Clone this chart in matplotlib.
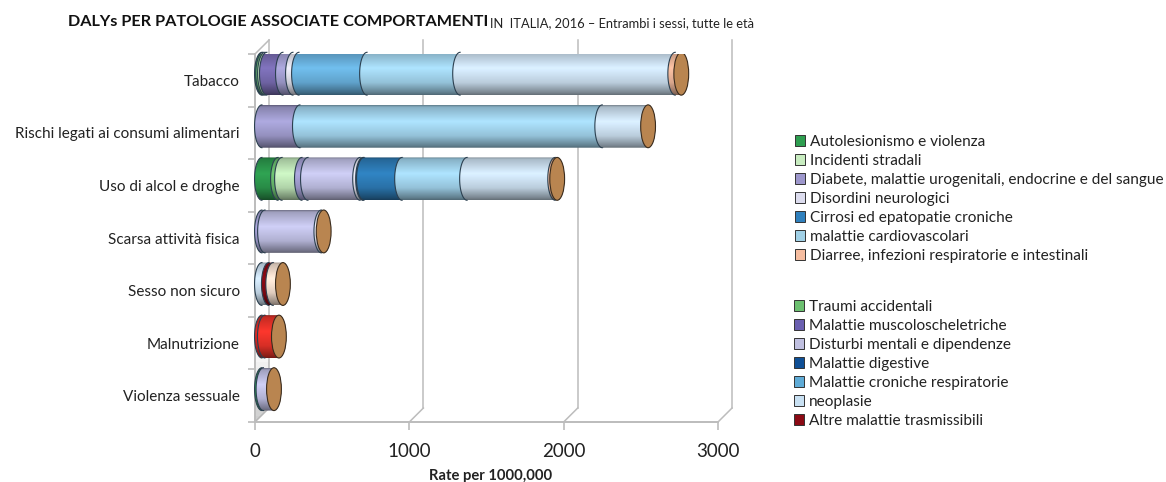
import numpy as np
import matplotlib
matplotlib.use("Agg")
import matplotlib.pyplot as plt
from matplotlib.patches import Ellipse, Patch, PathPatch, Polygon
from matplotlib.path import Path
from matplotlib.colors import to_rgb

plt.rcParams['font.family'] = ['Lato', 'DejaVu Sans']

# Categorie
categorie = ["Tabacco", "Rischi legati ai consumi alimentari", "Uso di alcol e droghe",
             "Scarsa attività fisica", "Sesso non sicuro", "Malnutrizione", "Violenza sessuale"]

# Valori (stesso ordine delle categorie)
autolesionismo = [8, 0, 104, 0, 0, 0, 10]
traumi = [12, 0, 26, 0, 0, 0, 0]
incidenti = [12, 0, 129, 0, 0, 0, 0]
muscolo = [104, 0, 0, 0, 0, 0, 0]
diabete = [65, 246, 39, 20, 0, 0, 0]
disturbi = [0, 0, 338, 365, 0, 0, 68]
disordini = [39, 0, 19, 15, 0, 0, 0]
digestive = [0, 0, 6, 0, 0, 0, 0]
cirrosi = [0, 0, 247, 0, 0, 0, 0]
respiratorie = [441, 0, 0, 0, 0, 0, 0]
cardio = [603, 1959, 421, 0, 0, 0, 0]
neoplasie = [1394, 297, 571, 0, 45, 0, 0]
altre = [0, 0, 0, 0, 28, 0, 0]
hiv = [0, 0, 0, 0, 63, 0, 0]
diarree = [39, 0, 13, 0, 0, 0, 0]
nutrizione_a = [0, 0, 0, 0, 0, 19, 0]
nutrizione_b = [0, 0, 0, 0, 0, 91, 0]

# Serie nell'ordine di impilamento: valori e colore
serie = [
    (autolesionismo, "#2e9e50"), (traumi, "#6cc070"), (incidenti, "#c8f0c0"),
    (muscolo, "#7d70b8"), (diabete, "#a8a4d8"), (disturbi, "#c8c8ee"),
    (disordini, "#e8e8f4"), (digestive, "#0f4f95"), (cirrosi, "#2f80bd"),
    (respiratorie, "#6db8e6"), (cardio, "#a8dcf6"), (neoplasie, "#d4e9fa"),
    (altre, "#8b0a14"), (hiv, "#fee8d8"), (diarree, "#f6bda0"),
    (nutrizione_a, "#dc2a24"), (nutrizione_b, "#f4352b"),
]

legenda_1 = [("Autolesionismo e violenza", "#2e9e50"), ("Incidenti stradali", "#c8ecc0"),
             ("Diabete, malattie urogenitali, endocrine e del sangue", "#9d97cc"),
             ("Disordini neurologici", "#dcdcee"), ("Cirrosi ed epatopatie croniche", "#2f80bd"),
             ("malattie cardiovascolari", "#a0d0e6"), ("Diarree, infezioni respiratorie e intestinali", "#f6bda0")]
legenda_2 = [("Traumi accidentali", "#6cc070"), ("Malattie muscoloscheletriche", "#6a5fb0"),
             ("Disturbi mentali e dipendenze", "#c0c0e0"), ("Malattie digestive", "#0f4f95"),
             ("Malattie croniche respiratorie", "#5fabd6"), ("neoplasie", "#c8e0f2"),
             ("Altre malattie trasmissibili", "#8b0a14")]

W, H = 1166, 482
fig = plt.figure(figsize=(W / 100, H / 100), dpi=100)
ax = fig.add_axes([255 / W, 1 - 422 / H, 463 / W, 368 / H])
ax.set_facecolor("none")

GRIGIO = "#bcbcbc"
PROF_X = 91      # profondita' 3D in unita' dati
PROF_Y = 0.266
SEMI_X = 48      # semiasse ellisse
ALTEZZA = 0.815
SPOST_Y = -0.125
OFFS_X = 45

# Ombreggiatura verticale del cilindro
pos = [0, 0.04, 0.38, 0.72, 0.95, 1]
lum = [0.58, 0.8, 1.04, 0.88, 0.58, 0.48]
prof = np.interp(np.linspace(0, 1, 64), pos, lum)


def forma(x0, x1, yc):
    # lato sinistro e destro del segmento, fatti di semiellissi
    h = ALTEZZA / 2
    t = np.linspace(np.pi / 2, 3 * np.pi / 2, 30)
    sx = np.column_stack([x0 + SEMI_X * np.cos(t), yc - h * np.sin(t)])
    dx = np.column_stack([x1 - SEMI_X * np.cos(t), yc + h * np.sin(t)])
    return np.vstack([sx, dx, sx[:1]]), sx


def segmento(x0, x1, yc, colore, z):
    vertici, bordo = forma(x0, x1, yc)
    rgb = np.array(to_rgb(colore))
    img = np.clip(rgb[None, None, :] * prof[:, None, None], 0, 1)
    h = ALTEZZA / 2
    im = ax.imshow(img, extent=[x0 - SEMI_X, x1 + SEMI_X, yc + h, yc - h], aspect="auto",
                   interpolation="bilinear", zorder=z)
    patch = PathPatch(Path(vertici), fc="none", ec="none", zorder=z)
    ax.add_patch(patch)
    im.set_clip_path(patch)
    ax.plot(bordo[:, 0], bordo[:, 1], color="#2c4050", lw=0.8, zorder=z + 0.1, clip_on=False)


# Pareti e griglia sul fondo
y_basso, y_alto = 6.5, -0.5
fondo_basso, fondo_alto = y_basso - PROF_Y, y_alto - PROF_Y
for v in [0, 1000, 2000, 3000]:
    ax.plot([v + PROF_X] * 2, [fondo_basso, fondo_alto], color=GRIGIO, lw=1.1, zorder=1, clip_on=False)
    ax.plot([v, v + PROF_X], [y_basso, fondo_basso], color=GRIGIO, lw=1.1, zorder=1, clip_on=False)
ax.plot([0, PROF_X], [y_alto, fondo_alto], color=GRIGIO, lw=1.1, zorder=1, clip_on=False)

# Parete sinistra che sfuma verso il basso
sfumatura = np.zeros((64, 1, 4))
sfumatura[..., :3] = 0.68
sfumatura[:, 0, 3] = np.interp(np.linspace(0, 1, 64), [0, 0.8, 1], [0, 0, 0.6])
im = ax.imshow(sfumatura, extent=[0, PROF_X, y_basso, fondo_alto], aspect="auto", zorder=1.5)
parete = Polygon([(0, y_alto), (PROF_X, fondo_alto), (PROF_X, fondo_basso), (0, y_basso)],
                 fc="none", ec="none", zorder=1.5)
ax.add_patch(parete)
im.set_clip_path(parete)

# Cilindri impilati
for i in range(len(categorie)):
    yc = i + SPOST_Y
    somma = OFFS_X
    z = 3
    for valori, colore in serie:
        v = valori[i]
        if v == 0:
            continue
        segmento(somma, somma + v, yc, colore, z)
        somma += v
        z += 1
    ax.add_patch(Ellipse((somma, yc), 2 * SEMI_X, ALTEZZA, fc="#b98550", ec="#3a2c1e", lw=0.8, zorder=z))

ax.set_xlim(0, 3000)
ax.set_ylim(y_basso, y_alto)

for lato in ["top", "right"]:
    ax.spines[lato].set_visible(False)
for lato in ["left", "bottom"]:
    ax.spines[lato].set_color(GRIGIO)
    ax.spines[lato].set_linewidth(1.4)

ax.set_xticks([0, 1000, 2000, 3000])
ax.tick_params(axis="x", labelsize=13.5, length=6, width=1.2, color=GRIGIO, pad=9, labelcolor="#222222")
ax.set_yticks(range(len(categorie)))
ax.set_yticklabels(categorie)
ax.tick_params(axis="y", which="major", labelsize=11, length=0, pad=11, labelcolor="#222222")
ax.set_yticks(np.arange(-0.5, 7, 1), minor=True)
ax.tick_params(axis="y", which="minor", length=5, width=1.2, color=GRIGIO)

# Titolo in due pezzi
fig.text(68 / W, 1 - 22 / H, "DALYs PER PATOLOGIE ASSOCIATE COMPORTAMENTI", fontsize=11.7,
         fontweight="bold", va="center", color="#111111")
fig.text(490 / W, 1 - 23 / H, "IN  ITALIA, 2016 – Entrambi i sessi, tutte le età", fontsize=9.3,
         va="center", color="#222222")
fig.text(491 / W, 1 - 476 / H, "Rate per 1000,000", fontsize=10.6, fontweight="bold", ha="center",
         va="center", color="#222222")

# Le due legende
for voci, x, y in [(legenda_1, 790, 130), (legenda_2, 789, 295)]:
    maniglie = [Patch(fc=c, ec="#333333", lw=0.7, label=t) for t, c in voci]
    leg = fig.legend(handles=maniglie, loc="upper left", bbox_to_anchor=(x / W, 1 - y / H),
                     frameon=False, fontsize=11.1, handlelength=0.7, handleheight=0.7,
                     handletextpad=0.3, labelspacing=0.33, borderpad=0.3, borderaxespad=0)
    for t in leg.get_texts():
        t.set_color("#222222")

fig.savefig("out.png", dpi=100)
